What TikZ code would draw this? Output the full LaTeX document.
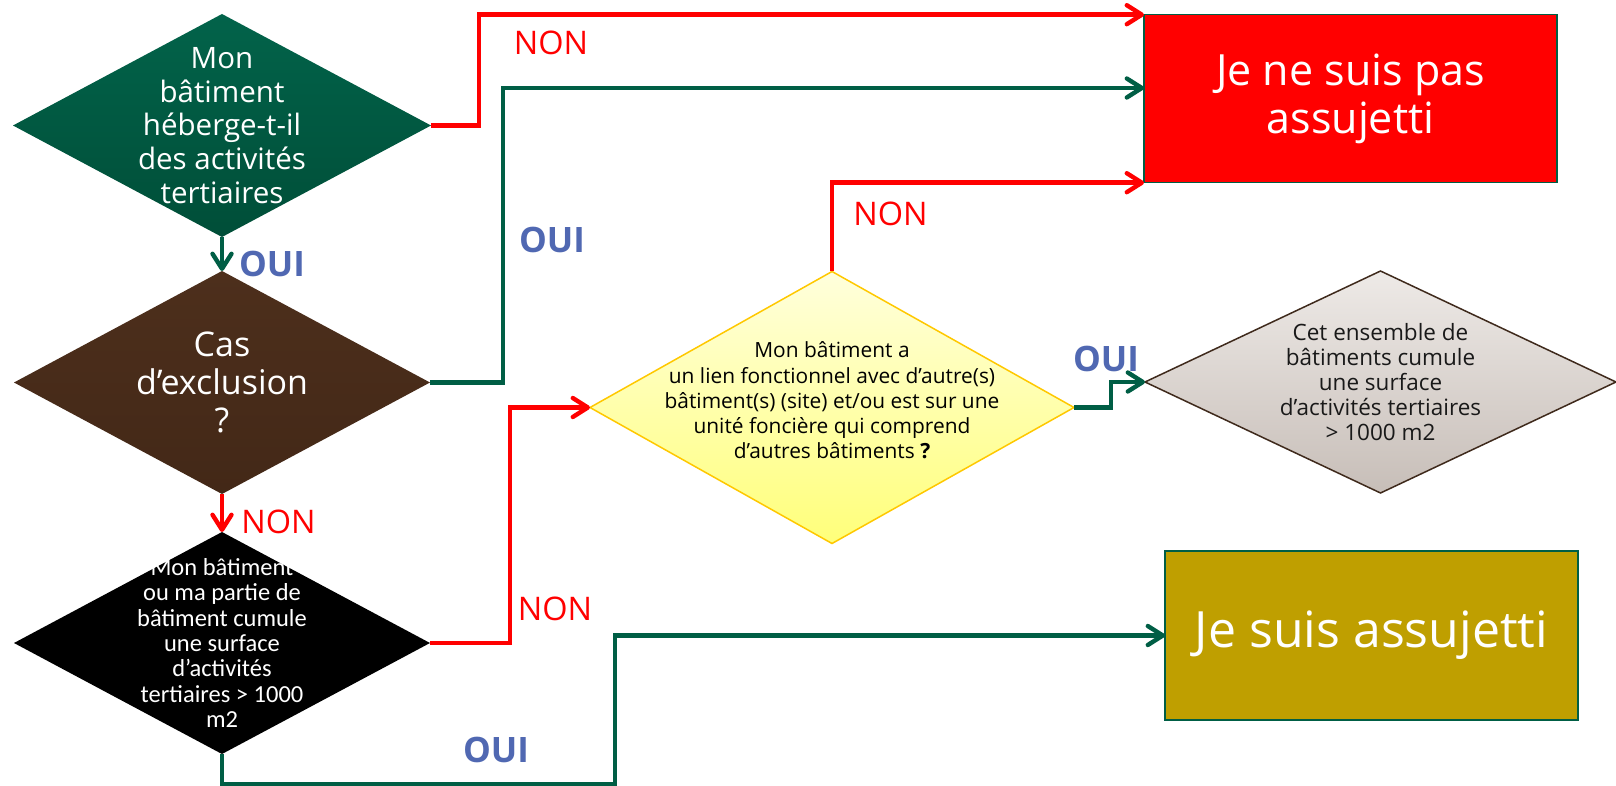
\documentclass[tikz,border=0pt]{standalone}
\usepackage{fontspec}
\setmainfont{Open Sans}
\newfontfamily\calfont{Carlito}
\usetikzlibrary{arrows.meta,shapes.geometric,calc}
\definecolor{dgreen}{HTML}{005E45}
\definecolor{dgreenT}{HTML}{02634A}
\definecolor{dgreenB}{HTML}{004E38}
\definecolor{brownT}{HTML}{4D2F1C}
\definecolor{brownB}{HTML}{432817}
\definecolor{yelT}{HTML}{FFFFDC}
\definecolor{yelB}{HTML}{FFFF7A}
\definecolor{gold}{HTML}{FFC800}
\definecolor{greyT}{HTML}{EEEAE7}
\definecolor{greyB}{HTML}{C7BEB8}
\definecolor{dbrown}{HTML}{3F2A1C}
\definecolor{olive}{HTML}{BF9F00}
\definecolor{oblue}{HTML}{5068B2}
\definecolor{pred}{HTML}{FF0000}
\tikzset{
  diam/.style={diamond, inner sep=0pt, outer sep=0pt},
  dtext/.style={align=center, inner sep=0pt},
  conn/.style={line width=4.4pt, -{Straight Barb[length=15pt,width=19pt,line width=4.4pt,round]}},
  redc/.style={conn, draw=pred},
  grnc/.style={conn, draw=dgreen},
  nonlab/.style={text=pred, font=\fontsize{32.5}{38}\selectfont, inner sep=0pt},
  ouilab/.style={text=oblue, font=\bfseries\fontsize{35}{40}\selectfont, inner sep=0pt},
  endbox/.style={rectangle, draw=dgreen, line width=1.5pt, inner sep=0pt, outer sep=0pt, text=white, align=center}
}
\begin{document}
\begin{tikzpicture}[x=1pt,y=-1pt]
\useasboundingbox[fill=white] (0,0) rectangle (1616,786);

% decision diamonds
\node[diam, top color=dgreenT, bottom color=dgreenB, minimum width=418pt, minimum height=223pt,
  label={[dtext, text=white, font=\fontsize{29.5}{33.8}\selectfont]center:{Mon\\bâtiment\\héberge-t-il\\des activités\\tertiaires}}]
  (d1) at (222,125.5) {};
\node[diam, top color=brownT, bottom color=brownB, minimum width=416pt, minimum height=223pt,
  label={[dtext, text=white, font=\fontsize{34}{38}\selectfont]center:{Cas\\d’exclusion\\?}}]
  (d2) at (222,382.5) {};
\node[diam, fill=black, minimum width=416pt, minimum height=222pt,
  label={[dtext, text=white, font=\calfont\fontsize{24.5}{25.3}\selectfont]center:{Mon bâtiment\\ou ma partie de\\bâtiment cumule\\une surface\\d’activités\\tertiaires > 1000\\m2}}]
  (d3) at (222,643) {};
\node[diam, top color=yelT, bottom color=yelB, draw=gold, line width=1.5pt, minimum width=484pt, minimum height=272pt,
  label={[dtext, text=black, font=\fontsize{20.9}{25.2}\selectfont, yshift=7pt]center:{Mon bâtiment a\\un lien fonctionnel avec d’autre(s)\\bâtiment(s) (site) et/ou est sur une\\unité foncière qui comprend\\d’autres bâtiments \textbf{?}}}]
  (d4) at (832,407.5) {};
\node[diam, top color=greyT, bottom color=greyB, draw=dbrown, line width=1.5pt, minimum width=471pt, minimum height=222pt,
  label={[dtext, text=black!90, font=\fontsize{22.5}{25}\selectfont]center:{Cet ensemble de\\bâtiments cumule\\une surface\\d’activités tertiaires\\> 1000 m2}}]
  (d5) at (1380.5,382) {};

% result boxes
\node[endbox, fill=pred, minimum width=413pt, minimum height=168pt, font=\fontsize{43}{48.3}\selectfont]
  (b1) at (1350.5,98.7) {Je ne suis pas\\assujetti};
\node[endbox, fill=olive, minimum width=413pt, minimum height=169pt, font=\fontsize{50}{58}\selectfont]
  (b2) at (1371.5,635.5) {Je suis assujetti};

% connectors
\draw[redc] (d1.east) -- ++(48,0) |- (b1.north west);
\draw[grnc] (d2.east) -- ++(73,0) |- ($(b1.west)+(0,-10.7)$);
\draw[grnc] (d1.south) -- (d2.north);
\draw[redc] (d2.south) -- (d3.north);
\draw[redc] (d3.east) -- ++(80,0) |- (d4.west);
\draw[grnc] (d3.south) |- ($(d3.south)+(393,30)$) |- (b2.west);
\draw[redc] (d4.north) |- (b1.south west);
\draw[grnc] (d4.east) -- ++(37,0) |- (d5.west);

% labels
\node[nonlab] (l1) at (551,43) {NON};
\node[ouilab] (l2) at (272,264) {OUI};
\node[ouilab] (l3) at (552,240) {OUI};
\node[nonlab] (l4) at (278.5,522) {NON};
\node[nonlab] (l5) at (555,609) {NON};
\node[ouilab] (l6) at (496,750) {OUI};
\node[nonlab] (l7) at (890.5,214) {NON};
\node[ouilab] (l8) at (1106,358.6) {OUI};
\end{tikzpicture}
\end{document}
